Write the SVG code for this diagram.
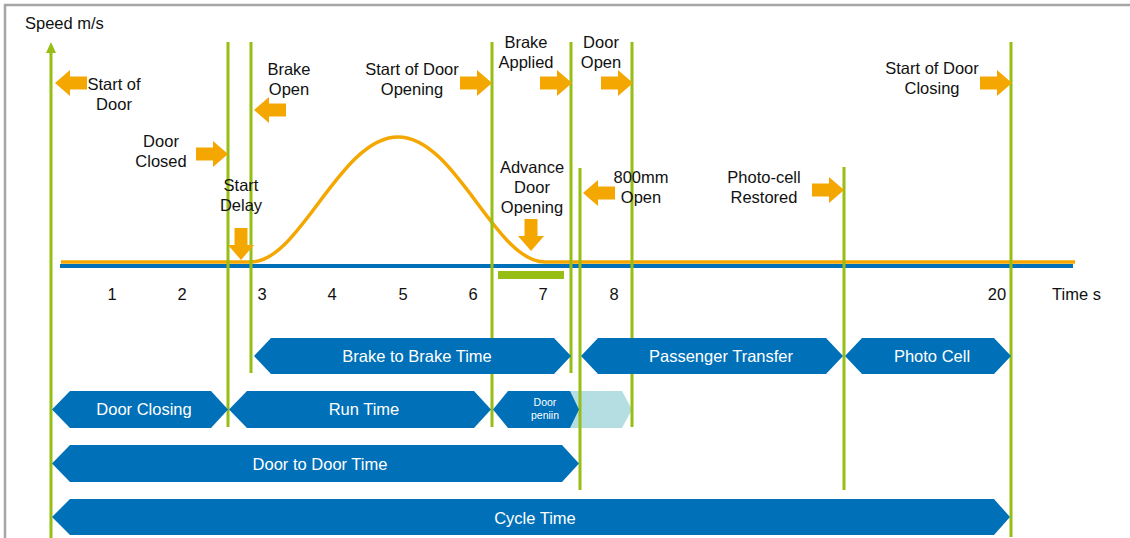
<svg xmlns="http://www.w3.org/2000/svg" xmlns:xlink="http://www.w3.org/1999/xlink" width="1130" height="538" viewBox="0 0 1130 538">
<style>
.lbl{font-family:"Liberation Sans",Arial,sans-serif;font-size:16.5px;fill:#111;text-anchor:middle}
.num{font-family:"Liberation Sans",Arial,sans-serif;font-size:16.5px;fill:#111;text-anchor:middle}
.bar{fill:#0070B8}
.btx{font-family:"Liberation Sans",Arial,sans-serif;font-size:16.5px;fill:#fff;text-anchor:middle}
.stx{font-family:"Liberation Sans",Arial,sans-serif;font-size:10.5px;fill:#fff;text-anchor:middle}
.g{stroke:#96BE14;stroke-width:3;fill:none}
.arr{fill:#F4A700}
</style>
<defs>
<path id="ar" d="M-32,-6.5 H-15 V-13 L0,0 L-15,13 V6.5 H-32 Z"/>
</defs>
<rect width="1130" height="538" fill="#fff"/>
<g id="frame" stroke="#A6A6A6" stroke-width="2.5" fill="none">
<path d="M5,538 V5 H1130"/>
</g>
<text class="lbl" x="25" y="29" style="text-anchor:start">Speed m/s</text>
<g id="baseline">
<line x1="60" y1="266" x2="1073" y2="266" stroke="#0070B8" stroke-width="4"/>
<path d="M61,262 H251 C300,262 340,137 398,137 C456,137 495,262 545,262 H1075" stroke="#F4A700" stroke-width="3.5" fill="none"/>
<rect x="498" y="271" width="66" height="8" fill="#96BE14"/>
</g>
<g id="axis-numbers">
<text class="num" x="112" y="300">1</text>
<text class="num" x="182" y="300">2</text>
<text class="num" x="262" y="300">3</text>
<text class="num" x="332" y="300">4</text>
<text class="num" x="403" y="300">5</text>
<text class="num" x="473" y="300">6</text>
<text class="num" x="543" y="300">7</text>
<text class="num" x="614" y="300">8</text>
<text class="num" x="997" y="300">20</text>
<text class="num" x="1052" y="300" style="text-anchor:start">Time s</text>
</g>
<g id="door-opening-ext"><polygon fill="#B5DEE2" points="560,391 622,391 632,409.5 622,428 560,428"/></g>
<g id="connectors">
<line class="g" x1="51" y1="50" x2="51" y2="538"/>
<polygon points="46,53 51,42 56,53" fill="#96BE14"/>
<line class="g" x1="228" y1="42" x2="228" y2="427"/>
<line class="g" x1="251" y1="42" x2="251" y2="373"/>
<line class="g" x1="492" y1="42" x2="492" y2="427"/>
<line class="g" x1="571" y1="42" x2="571" y2="373"/>
<line class="g" x1="580" y1="168" x2="580" y2="490"/>
<line class="g" x1="632" y1="42" x2="632" y2="427"/>
<line class="g" x1="844" y1="167" x2="844" y2="490"/>
<line class="g" x1="1011" y1="42" x2="1011" y2="537"/>
</g>
<g id="brake-to-brake"><polygon class="bar" points="254,356 271,338 554,338 571,356 554,374 271,374"/><text class="btx" x="417" y="362">Brake to Brake Time</text></g>
<g id="passenger-transfer"><polygon class="bar" points="581,356 598,338 826,338 843,356 826,374 598,374"/><text class="btx" x="721" y="362">Passenger Transfer</text></g>
<g id="photo-cell"><polygon class="bar" points="845,356 862,338 994,338 1011,356 994,374 862,374"/><text class="btx" x="932" y="362">Photo Cell</text></g>
<g id="door-closing"><polygon class="bar" points="52,409.5 70,391 211,391 228,409.5 211,428 70,428"/><text class="btx" x="144" y="415">Door Closing</text></g>
<g id="run-time"><polygon class="bar" points="229,409.5 247,391 474,391 491,409.5 474,428 247,428"/><text class="btx" x="364" y="415">Run Time</text></g>
<g id="door-opening"><polygon class="bar" points="493,409.5 508,391 570,391 579,409.5 570,428 508,428"/><text class="stx" x="545" y="406">Door</text><text class="stx" x="545" y="419">peniin</text></g>
<g id="door-to-door"><polygon class="bar" points="52,463.5 70,445 562,445 579,463.5 562,482 70,482"/><text class="btx" x="320" y="470">Door to Door Time</text></g>
<g id="cycle-time"><polygon class="bar" points="52,517 70,499 994,499 1010,517 994,535 70,535"/><text class="btx" x="535" y="524">Cycle Time</text></g>
<g id="labels">
<text class="lbl" x="114" y="90">Start of</text><text class="lbl" x="114" y="110">Door</text>
<text class="lbl" x="289" y="75">Brake</text><text class="lbl" x="289" y="95">Open</text>
<text class="lbl" x="161" y="147">Door</text><text class="lbl" x="161" y="167">Closed</text>
<text class="lbl" x="241" y="191">Start</text><text class="lbl" x="241" y="211">Delay</text>
<text class="lbl" x="412" y="75">Start of Door</text><text class="lbl" x="412" y="95">Opening</text>
<text class="lbl" x="526" y="48">Brake</text><text class="lbl" x="526" y="68">Applied</text>
<text class="lbl" x="601" y="48">Door</text><text class="lbl" x="601" y="68">Open</text>
<text class="lbl" x="532" y="173">Advance</text><text class="lbl" x="532" y="193">Door</text><text class="lbl" x="532" y="213">Opening</text>
<text class="lbl" x="641" y="183">800mm</text><text class="lbl" x="641" y="203">Open</text>
<text class="lbl" x="764" y="183">Photo-cell</text><text class="lbl" x="764" y="203">Restored</text>
<text class="lbl" x="932" y="74">Start of Door</text><text class="lbl" x="932" y="94">Closing</text>
</g>
<g id="arrows" class="arr">
<use xlink:href="#ar" transform="translate(55,83) rotate(180)"/>
<use xlink:href="#ar" transform="translate(254,110) rotate(180)"/>
<use xlink:href="#ar" transform="translate(228,154)"/>
<use xlink:href="#ar" transform="translate(241,260) rotate(90)"/>
<use xlink:href="#ar" transform="translate(492,83)"/>
<use xlink:href="#ar" transform="translate(572,83)"/>
<use xlink:href="#ar" transform="translate(633,83)"/>
<use xlink:href="#ar" transform="translate(531,251) rotate(90)"/>
<use xlink:href="#ar" transform="translate(583,193) rotate(180)"/>
<use xlink:href="#ar" transform="translate(844,190)"/>
<use xlink:href="#ar" transform="translate(1012,83)"/>
</g>
</svg>
